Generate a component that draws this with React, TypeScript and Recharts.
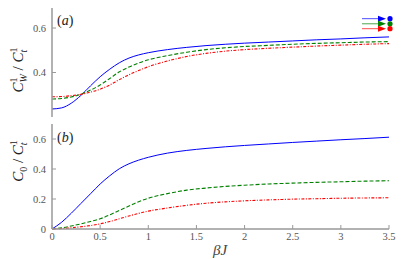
import { ComposedChart, Line, Scatter, XAxis, YAxis } from 'recharts'

const betaJ = [0, 0.1, 0.2, 0.3, 0.4, 0.5, 0.6, 0.7, 0.8, 0.9, 1.0, 1.2, 1.4, 1.6, 1.8, 2.0, 2.25, 2.5, 2.75, 3.0, 3.25, 3.5]

// panel (a): C_W^1 / C_t^1
const wBlue = [0.236, 0.241, 0.262, 0.297, 0.34, 0.381, 0.415, 0.444, 0.465, 0.479, 0.489, 0.503, 0.513, 0.521, 0.527, 0.532, 0.537, 0.542, 0.547, 0.551, 0.556, 0.56]
const wGreen = [0.281, 0.283, 0.29, 0.302, 0.321, 0.344, 0.373, 0.403, 0.425, 0.443, 0.457, 0.476, 0.491, 0.503, 0.511, 0.517, 0.522, 0.527, 0.531, 0.534, 0.537, 0.539]
const wRed = [0.291, 0.292, 0.296, 0.302, 0.312, 0.325, 0.344, 0.368, 0.39, 0.409, 0.426, 0.452, 0.472, 0.486, 0.496, 0.503, 0.509, 0.514, 0.519, 0.523, 0.527, 0.53]
const limits = [0.642, 0.619, 0.597]

// panel (b): C_0 / C_t^1
const zBlue = [0, 0.045, 0.105, 0.17, 0.235, 0.3, 0.355, 0.402, 0.435, 0.459, 0.478, 0.506, 0.524, 0.537, 0.548, 0.557, 0.567, 0.577, 0.586, 0.595, 0.603, 0.612]
const zGreen = [0, 0.008, 0.02, 0.034, 0.05, 0.068, 0.094, 0.124, 0.153, 0.182, 0.205, 0.236, 0.259, 0.273, 0.284, 0.292, 0.3, 0.306, 0.311, 0.315, 0.319, 0.322]
const zRed = [0, 0.003, 0.008, 0.015, 0.023, 0.034, 0.05, 0.068, 0.087, 0.104, 0.119, 0.14, 0.158, 0.172, 0.181, 0.188, 0.194, 0.199, 0.202, 0.205, 0.207, 0.208]

const xTicks = [0, 0.5, 1, 1.5, 2, 2.5, 3, 3.5]
const yTicksA = [0.2, 0.4, 0.6]
const yTicksB = [0, 0.2, 0.4, 0.6]

const topData = betaJ.map((b, i) => ({ b, blue: wBlue[i], green: wGreen[i], red: wRed[i] }))
const botData = betaJ.map((b, i) => ({ b, blue: zBlue[i], green: zGreen[i], red: zRed[i] }))

const colors = ['#0000ff', '#008000', '#ff0000']
const frame = '#999'
const serif = '"Liberation Serif", "Times New Roman", "DejaVu Serif", serif'
const W = 415

const LeftTick = ({ x, y, payload }: any) => (
  <g>
    <line x1={x + 6} x2={x + 10} y1={y} y2={y} stroke={frame} />
    <text x={x} y={y} dy="0.35em" textAnchor="end" style={{ fontFamily: serif }} fontSize={10.5} fill="#555">{payload.value}</text>
  </g>
)
const RightTick = ({ x, y }: any) => <line x1={x} x2={x - 4} y1={y} y2={y} stroke={frame} />
const TopTick = ({ x, y }: any) => <line x1={x} x2={x} y1={y} y2={y + 4} stroke={frame} />
const BottomTick = ({ x, y, payload }: any) => (
  <g>
    <line x1={x} x2={x} y1={y - 4} y2={y - 8} stroke={frame} />
    <text x={x} y={y} dy="0.71em" textAnchor="middle" style={{ fontFamily: serif }} fontSize={10.5} fill="#555">{payload.value}</text>
  </g>
)

function Arrow({ cx, cy, color }: any) {
  return (
    <g>
      <line x1={cx - 27} x2={cx - 10} y1={cy} y2={cy} stroke={color} strokeWidth={1} strokeOpacity={0.7} />
      <path d={`M${cx - 11},${cy - 3} L${cx - 3},${cy} L${cx - 11},${cy + 3} Z`} fill={color} />
      <circle cx={cx + 1} cy={cy} r={2.6} fill={color} />
    </g>
  )
}

function Series() {
  return [
    <Line key="blue" dataKey="blue" type="monotone" stroke={colors[0]} strokeWidth={1} dot={false} isAnimationActive={false} />,
    <Line key="green" dataKey="green" type="monotone" stroke={colors[1]} strokeWidth={1.1} strokeDasharray="4 2" dot={false} isAnimationActive={false} />,
    <Line key="red" dataKey="red" type="monotone" stroke={colors[2]} strokeWidth={1.1} strokeDasharray="3 1.5 1 1.5" dot={false} isAnimationActive={false} />,
  ]
}

export default function App() {
  return (
    <div style={{ position: 'absolute', left: 0, top: 0, width: W, height: 259, background: '#fff' }}>
      <div style={{ position: 'absolute', left: 0, top: 0 }}>
        <ComposedChart width={W} height={120} data={topData} margin={{ top: 8, right: 26, bottom: 3, left: 0 }}>
          <XAxis dataKey="b" type="number" domain={[0, 3.5]} ticks={xTicks} height={0} tick={false} tickLine={false} axisLine={{ stroke: frame, strokeWidth: 1.5 }} />
          <XAxis xAxisId="t" orientation="top" type="number" domain={[0, 3.5]} ticks={xTicks} height={0} tick={false} tickLine={false} axisLine={{ stroke: frame, strokeWidth: 1.5 }} />
          <YAxis type="number" domain={[0.2, 0.69]} ticks={yTicksA} width={52} tickSize={0} tickMargin={6} tickLine={false} tick={<LeftTick />} axisLine={{ stroke: frame, strokeWidth: 1.5 }} />
          <YAxis yAxisId="r" orientation="right" type="number" domain={[0.2, 0.69]} ticks={yTicksA} width={0} tickSize={0} tickMargin={0} tickLine={false} tick={<RightTick />} axisLine={{ stroke: frame, strokeWidth: 1.5 }} />
          {Series()}
          {limits.map((v, i) => (
            <Scatter key={i} data={[{ b: 3.5, blue: v }]} dataKey="blue" isAnimationActive={false}
              shape={(p: any) => <Arrow cx={p.cx} cy={p.cy} color={colors[i]} />} />
          ))}
        </ComposedChart>
      </div>
      <div style={{ position: 'absolute', left: 0, top: 120 }}>
        <ComposedChart width={W} height={139} data={botData} margin={{ top: 4, right: 26, bottom: 0, left: 0 }}>
          <XAxis dataKey="b" type="number" domain={[0, 3.5]} ticks={xTicks} height={30} tickSize={0} tickMargin={4} tickLine={false} tick={<BottomTick />} axisLine={{ stroke: frame, strokeWidth: 1.5 }} />
          <XAxis xAxisId="t" orientation="top" type="number" domain={[0, 3.5]} ticks={xTicks} height={0} tickSize={0} tickMargin={0} tickLine={false} tick={<TopTick />} axisLine={{ stroke: frame, strokeWidth: 1.5 }} />
          <YAxis type="number" domain={[0, 0.7]} ticks={yTicksB} width={52} tickSize={0} tickMargin={6} tickLine={false} tick={<LeftTick />} axisLine={{ stroke: frame, strokeWidth: 1.5 }} />
          <YAxis yAxisId="r" orientation="right" type="number" domain={[0, 0.7]} ticks={yTicksB} width={0} tickSize={0} tickMargin={0} tickLine={false} tick={<RightTick />} axisLine={{ stroke: frame, strokeWidth: 1.5 }} />
          {Series()}
        </ComposedChart>
      </div>
      <svg width={W} height={259} style={{ position: 'absolute', left: 0, top: 0, pointerEvents: 'none', fontFamily: serif }}>
        <text x={57} y={25} fontSize={14} fill="#222">(<tspan fontStyle="italic">a</tspan>)</text>
        <text x={57} y={142} fontSize={14} fill="#222">(<tspan fontStyle="italic">b</tspan>)</text>
        <text transform="translate(23,70) rotate(-90)" textAnchor="middle" fontSize={15} fill="#222">
          <tspan fontStyle="italic">C</tspan>
          <tspan fontSize={10} dy={-6}>1</tspan>
          <tspan fontSize={10} dx={-5} dy={10} fontStyle="italic">W</tspan>
          <tspan dy={-4}> / </tspan>
          <tspan fontStyle="italic">C</tspan>
          <tspan fontSize={10} dy={-6}>1</tspan>
          <tspan fontSize={10} dx={-5} dy={10} fontStyle="italic">t</tspan>
        </text>
        <text transform="translate(23,161) rotate(-90)" textAnchor="middle" fontSize={15} fill="#222">
          <tspan fontStyle="italic">C</tspan>
          <tspan fontSize={10} dy={4}>0</tspan>
          <tspan dy={-4}> / </tspan>
          <tspan fontStyle="italic">C</tspan>
          <tspan fontSize={10} dy={-6}>1</tspan>
          <tspan fontSize={10} dx={-5} dy={10} fontStyle="italic">t</tspan>
        </text>
        <text x={220} y={255} textAnchor="middle" fontSize={15} fill="#444">
          <tspan fontStyle="italic">βJ</tspan>
        </text>
      </svg>
    </div>
  )
}
